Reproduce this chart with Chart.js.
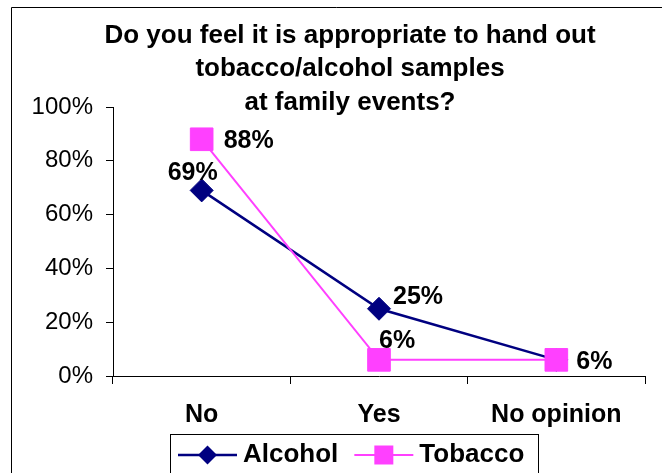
<!DOCTYPE html>
<html>
<head>
<meta charset="utf-8">
<script src="https://cdn.jsdelivr.net/npm/chart.js@4.4.1/dist/chart.umd.min.js"></script>
<style>
  html, body { margin: 0; padding: 0; background: #fff; }
  canvas { display: block; }
</style>
</head>
<body>
<canvas id="samples-chart" width="662" height="473"></canvas>
<script>
const titleLines = ['Do you feel it is appropriate to hand out', 'tobacco/alcohol samples', 'at family events?'];
const categories = ['No', 'Yes', 'No opinion'];
const alcoholValues = [69, 25, 6];
const tobaccoValues = [88, 6, 6];

const NAVY = '#000080';
const MAGENTA = '#ff40ff';
const FONT = 'Arial, "Liberation Sans", sans-serif';

Chart.defaults.font.family = FONT;
Chart.defaults.color = '#000';

// where each value label sits relative to its point: [dx, dy, align]
const labelOffsets = {
  Alcohol: [[-9, -17, 'center'], [14, -12, 'left'], null],
  Tobacco: [[22, 2, 'left'], [0, -19, 'left'], [20, 2, 'left']]
};

function drawMarker(ctx, style, x, y, r, color) {
  ctx.fillStyle = color;
  ctx.beginPath();
  if (style === 'rectRot') {
    ctx.moveTo(x, y - r);
    ctx.lineTo(x + r, y);
    ctx.lineTo(x, y + r);
    ctx.lineTo(x - r, y);
  } else {
    ctx.rect(x - r, y - r, 2 * r, 2 * r);
  }
  ctx.closePath();
  ctx.fill();
}

const framePlugin = {
  id: 'frame',
  beforeDraw(chart) {
    const ctx = chart.ctx;
    ctx.save();
    ctx.fillStyle = '#fff';
    ctx.fillRect(0, 0, chart.width, chart.height);
    ctx.strokeStyle = '#000';
    ctx.lineWidth = 1;
    ctx.beginPath();
    ctx.moveTo(11.5, chart.height);
    ctx.lineTo(11.5, 7.5);
    ctx.lineTo(chart.width, 7.5);
    ctx.stroke();
    ctx.restore();
  }
};

// three-line heading; its last line runs level with the top of the plot
const headingPlugin = {
  id: 'heading',
  afterDraw(chart) {
    const ctx = chart.ctx;
    ctx.save();
    ctx.font = 'bold 26px ' + FONT;
    ctx.fillStyle = '#000';
    ctx.textAlign = 'center';
    ctx.textBaseline = 'middle';
    titleLines.forEach((line, i) => {
      ctx.fillText(line, 350, 35.5 + i * 33.5);
    });
    ctx.restore();
  }
};

const valueLabels = {
  id: 'valueLabels',
  afterDatasetsDraw(chart) {
    const ctx = chart.ctx;
    ctx.save();
    ctx.font = 'bold 25px ' + FONT;
    ctx.fillStyle = '#000';
    ctx.textBaseline = 'middle';
    chart.data.datasets.forEach((ds, i) => {
      const meta = chart.getDatasetMeta(i);
      meta.data.forEach((pt, j) => {
        const off = labelOffsets[ds.label][j];
        if (!off) return;
        ctx.textAlign = off[2];
        ctx.fillText(ds.data[j] + '%', pt.x + off[0], pt.y + off[1]);
      });
    });
    ctx.restore();
  }
};

// line-and-marker legend in a box under the axis
const lineLegend = {
  id: 'lineLegend',
  afterDraw(chart) {
    const ctx = chart.ctx;
    const y = 455;
    ctx.save();
    ctx.strokeStyle = '#000';
    ctx.lineWidth = 1;
    ctx.strokeRect(170.5, 434.5, 368, 60);
    ctx.font = 'bold 26px ' + FONT;
    ctx.textBaseline = 'middle';
    ctx.textAlign = 'left';
    let x = 178;
    chart.data.datasets.forEach(ds => {
      ctx.strokeStyle = ds.borderColor;
      ctx.lineWidth = ds.borderWidth;
      ctx.beginPath();
      ctx.moveTo(x, y);
      ctx.lineTo(x + 59, y);
      ctx.stroke();
      drawMarker(ctx, ds.pointStyle, x + 29.5, y, 9.5, ds.borderColor);
      ctx.fillStyle = '#000';
      ctx.fillText(ds.label, x + 65, y);
      x += 65 + ctx.measureText(ds.label).width + 16;
    });
    ctx.restore();
  }
};

new Chart(document.getElementById('samples-chart'), {
  type: 'line',
  data: {
    labels: categories,
    datasets: [{
      label: 'Alcohol',
      data: alcoholValues,
      borderColor: NAVY,
      backgroundColor: NAVY,
      borderWidth: 2.5,
      pointStyle: 'rectRot',
      pointRadius: 11.5,
      pointBorderWidth: 1,
      tension: 0,
      order: 1
    }, {
      label: 'Tobacco',
      data: tobaccoValues,
      borderColor: MAGENTA,
      backgroundColor: MAGENTA,
      borderWidth: 2,
      pointStyle: 'rect',
      pointRadius: 16,
      pointBorderWidth: 1,
      tension: 0,
      order: 0
    }]
  },
  options: {
    responsive: false,
    animation: false,
    clip: false,
    layout: { padding: { left: 12, right: 10, top: 107, bottom: 0 } },
    plugins: {
      legend: { display: false },
      tooltip: { enabled: false },
      title: { display: false }
    },
    scales: {
      x: {
        offset: true,
        grid: { offset: true, drawOnChartArea: false, tickLength: 8, color: '#000' },
        border: { color: '#000' },
        ticks: { font: { size: 25, weight: 'bold' }, color: '#000', padding: 16, maxRotation: 0 },
        afterFit(scale) { scale.height = 97; }
      },
      y: {
        min: 0,
        max: 100,
        grid: { drawOnChartArea: false, tickLength: 7, color: '#000' },
        border: { color: '#000' },
        ticks: { stepSize: 20, font: { size: 24 }, color: '#000', padding: 13, callback: v => v + '%' },
        afterFit(scale) { scale.width = 101; }
      }
    }
  },
  plugins: [framePlugin, headingPlugin, valueLabels, lineLegend]
});
</script>
</body>
</html>
